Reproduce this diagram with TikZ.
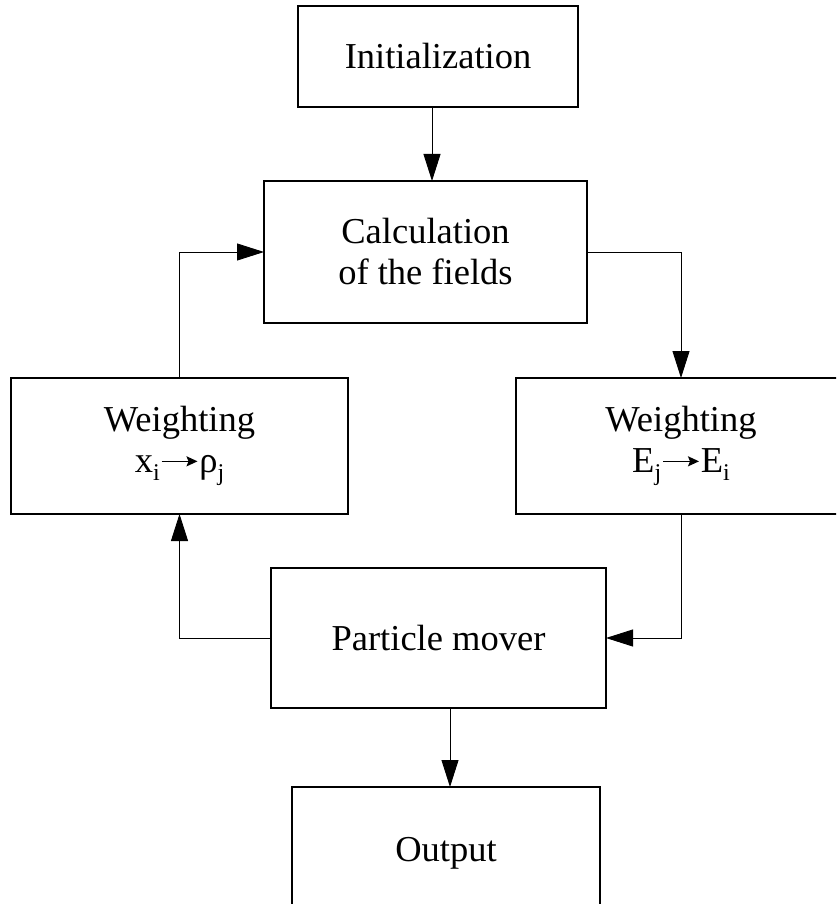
\documentclass[tikz,border=0pt]{standalone}
\usepackage{fontspec}
\setmainfont{Liberation Serif}
\usetikzlibrary{arrows.meta}
\tikzset{
  box/.style={draw, line width=1.1pt, inner sep=0pt, outer sep=0pt, align=center,
    font=\fontsize{36.5}{41}\selectfont},
  arr/.style={line width=0.9pt, -{Triangle[length=27pt,width=17pt]}},
  txtarr/.style={line width=1.6pt, -{Stealth[length=11pt,width=10pt,inset=2pt]}}
}
\newcommand{\sbs}[1]{\raisebox{-0.45ex}{\fontsize{24}{24}\selectfont #1}}
\newcommand{\lngarr}{\hspace{1pt}\tikz[baseline=0pt,x=1pt,y=1pt]{\path (0,0) rectangle (36,1); \draw[txtarr] (0,11.5) -- (36,11.5);}\hspace{1pt}}
\begin{document}
\begin{tikzpicture}[x=1pt,y=-1pt]
\useasboundingbox[fill=white] (0,0) rectangle (836,904);
\begin{scope}
\clip (0,0) rectangle (836,904);
\node[box, minimum width=280pt, minimum height=101pt] (init) at (438,56.5) {Initialization};
\node[box, minimum width=323pt, minimum height=142pt] (calc) at (425.5,252) {Calculation\\of the fields};
\node[box, minimum width=337pt, minimum height=136pt] (wx) at (179.5,446) {Weighting\\x\sbs{i}\lngarr ρ\sbs{j}};
\node[box, minimum width=330pt, minimum height=136pt] (we) at (681,446) {Weighting\\E\sbs{j}\lngarr E\sbs{i}};
\node[box, minimum width=335pt, minimum height=140pt] (pm) at (438.5,638) {Particle mover};
\node[box, minimum width=308pt, minimum height=132pt] (out) at (446,853) {Output};
\end{scope}
\draw[arr] ([xshift=-6pt]init.south) -- ([xshift=-6pt]init.south |- calc.north);
\draw[arr] (calc.east) -| (we.north);
\draw[arr] (we.south) |- (pm.east);
\draw[arr] (pm.west) -| (wx.south);
\draw[arr] (wx.north) |- (calc.west);
\draw[arr] ([xshift=4pt]out.north |- pm.south) -- ([xshift=4pt]out.north);
\end{tikzpicture}
\end{document}
